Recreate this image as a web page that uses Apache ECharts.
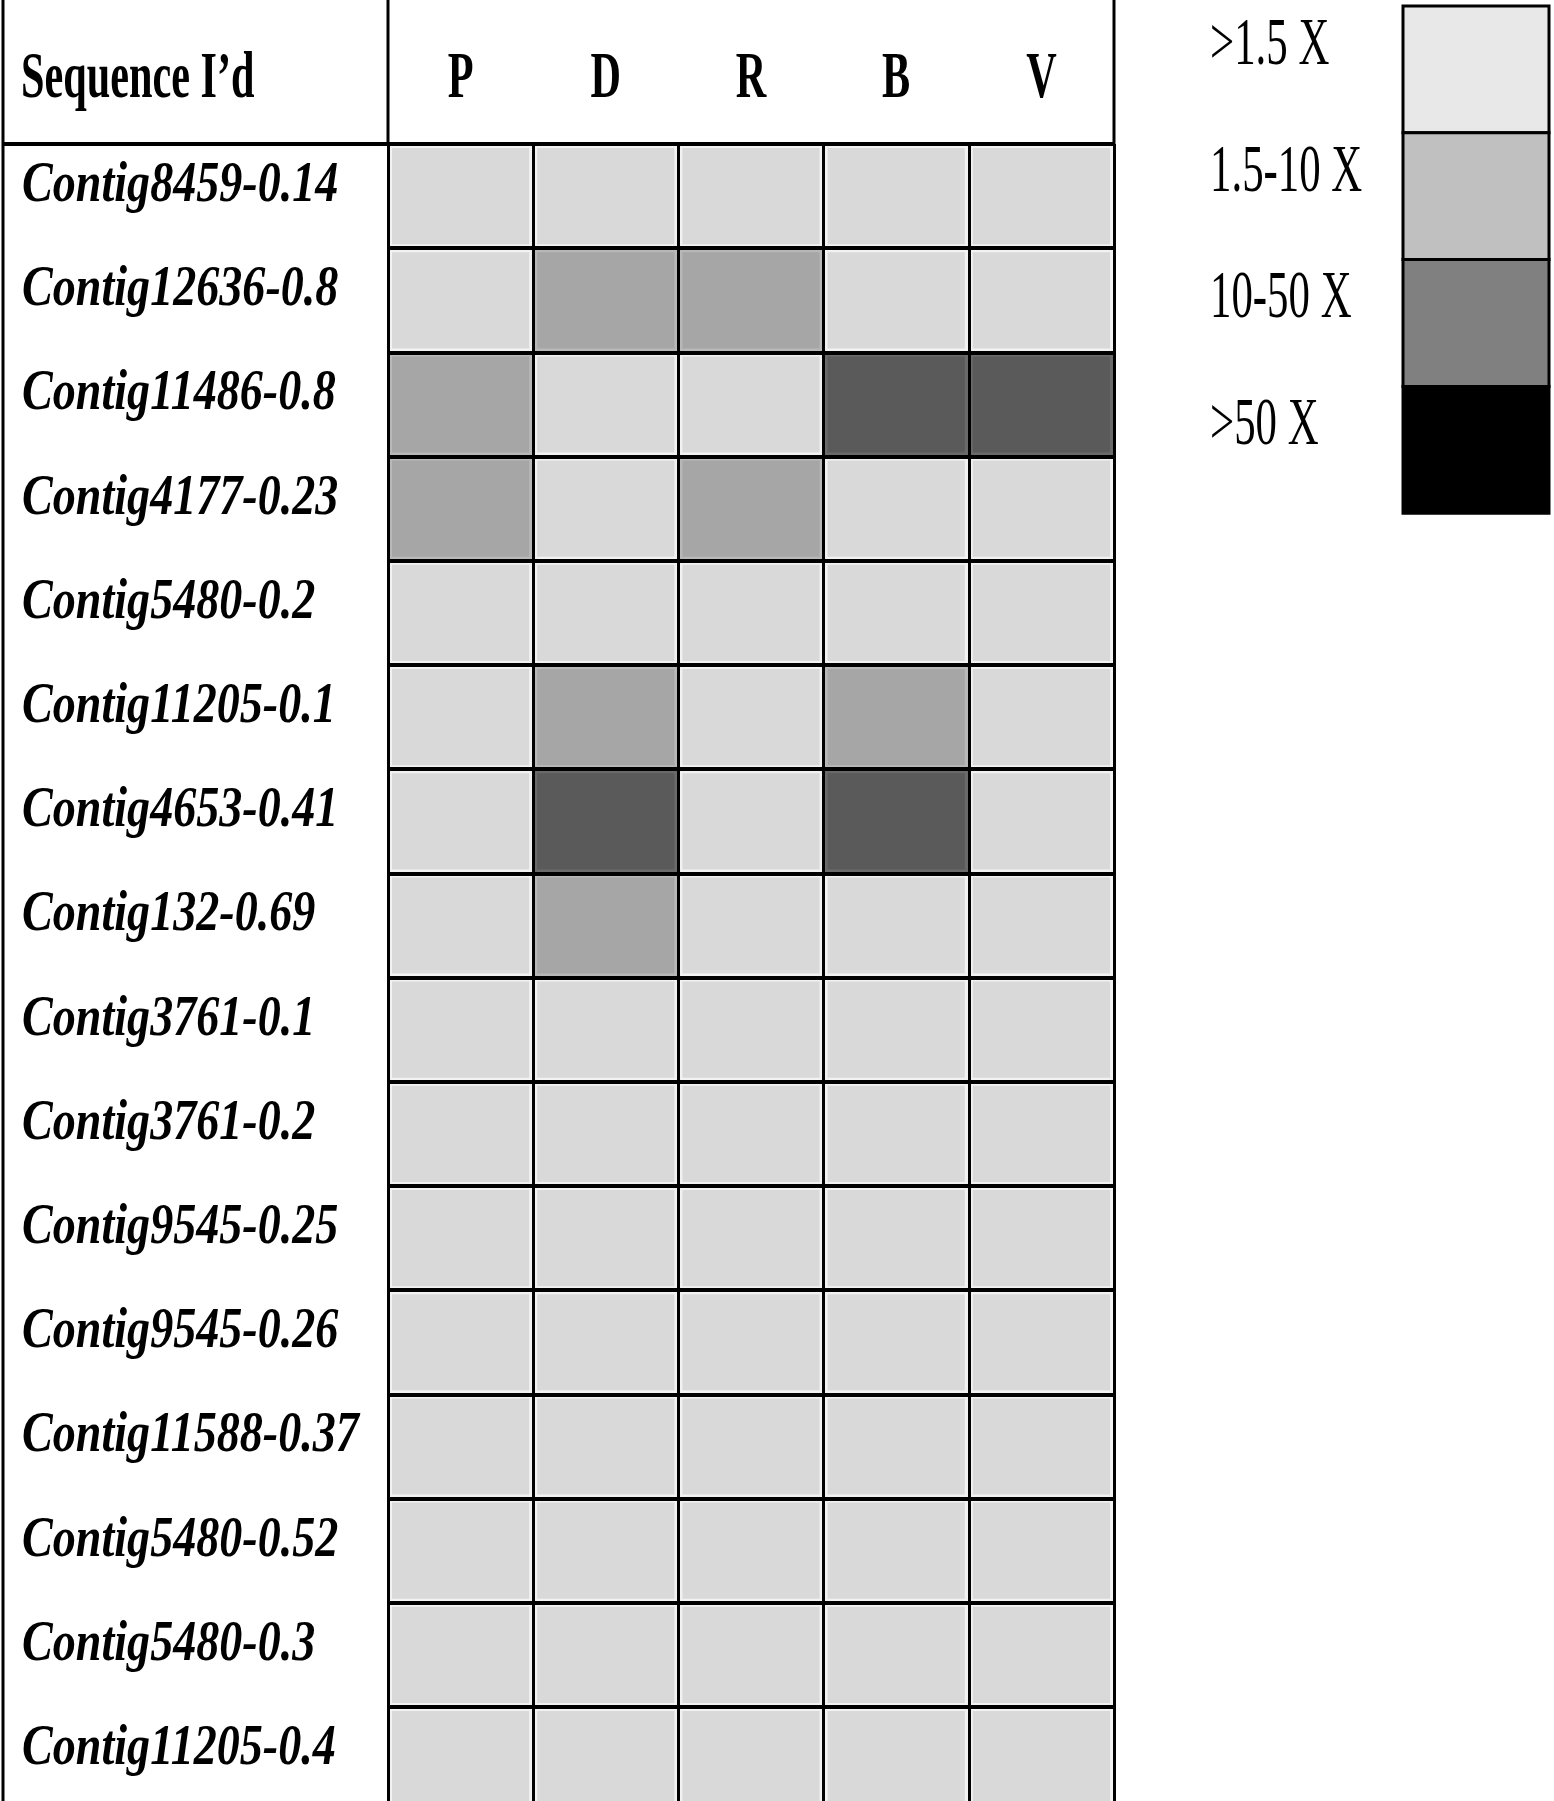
<!DOCTYPE html>
<html>
<head>
<meta charset="utf-8">
<script src="https://cdn.jsdelivr.net/npm/echarts@6/dist/echarts.min.js"></script>
<style>
  html, body { margin: 0; padding: 0; background: #fff; }
  #chart { width: 1554px; height: 1801px; }
</style>
</head>
<body>
<div id="chart"></div>
<script>
var sequences = [
  'Contig8459-0.14', 'Contig12636-0.8', 'Contig11486-0.8', 'Contig4177-0.23',
  'Contig5480-0.2', 'Contig11205-0.1', 'Contig4653-0.41', 'Contig132-0.69',
  'Contig3761-0.1', 'Contig3761-0.2', 'Contig9545-0.25', 'Contig9545-0.26',
  'Contig11588-0.37', 'Contig5480-0.52', 'Contig5480-0.3', 'Contig11205-0.4'
];
var samples = ['P', 'D', 'R', 'B', 'V'];
// expression class per sequence (row) and sample (column): 0 = >1.5 X, 1 = 1.5-10 X, 2 = 10-50 X
var levels = [
  [0, 0, 0, 0, 0],
  [0, 1, 1, 0, 0],
  [1, 0, 0, 2, 2],
  [1, 0, 1, 0, 0],
  [0, 0, 0, 0, 0],
  [0, 1, 0, 1, 0],
  [0, 2, 0, 2, 0],
  [0, 1, 0, 0, 0],
  [0, 0, 0, 0, 0],
  [0, 0, 0, 0, 0],
  [0, 0, 0, 0, 0],
  [0, 0, 0, 0, 0],
  [0, 0, 0, 0, 0],
  [0, 0, 0, 0, 0],
  [0, 0, 0, 0, 0],
  [0, 0, 0, 0, 0]
];
var headerTitle = 'Sequence I\u2019d';
var legendLabels = ['>1.5 X', '1.5-10 X', '10-50 X', '>50 X'];
var legendColors = ['#e8e8e8', '#c0c0c0', '#808080', '#000000'];

var cellColors = ['#d9d9d9', '#a6a6a6', '#5a5a5a', '#000000'];
var cellEdges = ['#f2f2f2', '#b8b8b8', '#6a6a6a', '#1a1a1a'];
var serif = '"Liberation Serif", "Times New Roman", serif';

var GRID_LEFT = 388, GRID_TOP = 144, GRID_W = 726, ROW_H = 104.2;

var cells = [];
levels.forEach(function (row, r) {
  row.forEach(function (lv, c) { cells.push([c, r, lv]); });
});

var chart = echarts.init(document.getElementById('chart'));

// legend box (stacked swatches with labels on the left)
var legendGraphic = [];
var boxX = 1403, boxY = 6, boxW = 146, segH = 126.8;
legendLabels.forEach(function (lab, i) {
  legendGraphic.push({
    type: 'rect', z: 10,
    shape: { x: boxX, y: boxY + i * segH, width: boxW, height: segH },
    style: { fill: legendColors[i], stroke: '#000', lineWidth: 3 }
  });
  legendGraphic.push({
    type: 'text', z: 10, x: 1210, y: boxY + i * segH + 40, scaleX: 0.63,
    style: { text: lab, fontFamily: serif, fontSize: 68, fill: '#000', align: 'left', verticalAlign: 'middle' }
  });
});

chart.setOption({
  animation: false,
  grid: {
    left: GRID_LEFT, top: GRID_TOP, width: GRID_W, height: ROW_H * sequences.length,
    outerBoundsMode: 'none'
  },
  xAxis: {
    type: 'category', data: samples, position: 'top', z: 5,
    axisLine: { show: false }, axisTick: { show: false }, axisLabel: { show: false },
    splitLine: { show: true, interval: 0, lineStyle: { color: '#000', width: 3 } }
  },
  yAxis: {
    type: 'category', data: sequences, inverse: true, z: 5,
    axisLine: { show: false }, axisTick: { show: false }, axisLabel: { show: false },
    splitLine: { show: true, interval: 0, lineStyle: { color: '#000', width: 4 } }
  },
  graphic: [
    { type: 'line', z: 10, shape: { x1: 3, y1: 0, x2: 3, y2: 1801 }, style: { stroke: '#000', lineWidth: 3 } },
    { type: 'line', z: 10, shape: { x1: 2, y1: GRID_TOP, x2: GRID_LEFT, y2: GRID_TOP }, style: { stroke: '#000', lineWidth: 4 } },
    { type: 'line', z: 10, shape: { x1: GRID_LEFT, y1: 0, x2: GRID_LEFT, y2: GRID_TOP }, style: { stroke: '#000', lineWidth: 3 } },
    { type: 'line', z: 10, shape: { x1: GRID_LEFT + GRID_W, y1: 0, x2: GRID_LEFT + GRID_W, y2: GRID_TOP }, style: { stroke: '#000', lineWidth: 3 } },
    {
      type: 'text', z: 10, x: 21, y: 80, scaleX: 0.64,
      style: { text: headerTitle, fontFamily: serif, fontWeight: 'bold', fontSize: 66, fill: '#000', align: 'left', verticalAlign: 'middle' }
    }
  ].concat(legendGraphic),
  series: [
    {
      type: 'custom', silent: true, z: 2,
      data: cells,
      renderItem: function (params, api) {
        var p = api.coord([api.value(0), api.value(1)]);
        var s = api.size([1, 1]);
        var lv = api.value(2);
        var x0 = p[0] - s[0] / 2, y0 = p[1] - s[1] / 2;
        return {
          type: 'group',
          children: [
            { type: 'rect', shape: { x: x0, y: y0, width: s[0], height: s[1] }, style: { fill: cellEdges[lv] } },
            { type: 'rect', shape: { x: x0 + 4, y: y0 + 4, width: s[0] - 8, height: s[1] - 8 }, style: { fill: cellColors[lv] } }
          ]
        };
      }
    },
    {
      // row labels, condensed bold italic like the original table
      type: 'custom', silent: true, clip: false, z: 6,
      data: sequences.map(function (name, i) { return [0, i]; }),
      renderItem: function (params, api) {
        var y = api.coord([0, api.value(1)])[1];
        return {
          type: 'text', x: 22, y: y - 10, scaleX: 0.795,
          style: {
            text: sequences[params.dataIndex], fontFamily: serif, fontStyle: 'italic', fontWeight: 'bold',
            fontSize: 58, fill: '#000', align: 'left', verticalAlign: 'middle'
          }
        };
      }
    },
    {
      // column headers
      type: 'custom', silent: true, clip: false, z: 6,
      data: samples.map(function (name, i) { return [i, 0]; }),
      renderItem: function (params, api) {
        var x = api.coord([api.value(0), 0])[0];
        return {
          type: 'text', x: x, y: params.coordSys.y - 64, scaleX: 0.64,
          style: {
            text: samples[params.dataIndex], fontFamily: serif, fontWeight: 'bold',
            fontSize: 66, fill: '#000', align: 'center', verticalAlign: 'middle'
          }
        };
      }
    }
  ]
});
window.addEventListener('resize', function () { chart.resize(); });
</script>
</body>
</html>
